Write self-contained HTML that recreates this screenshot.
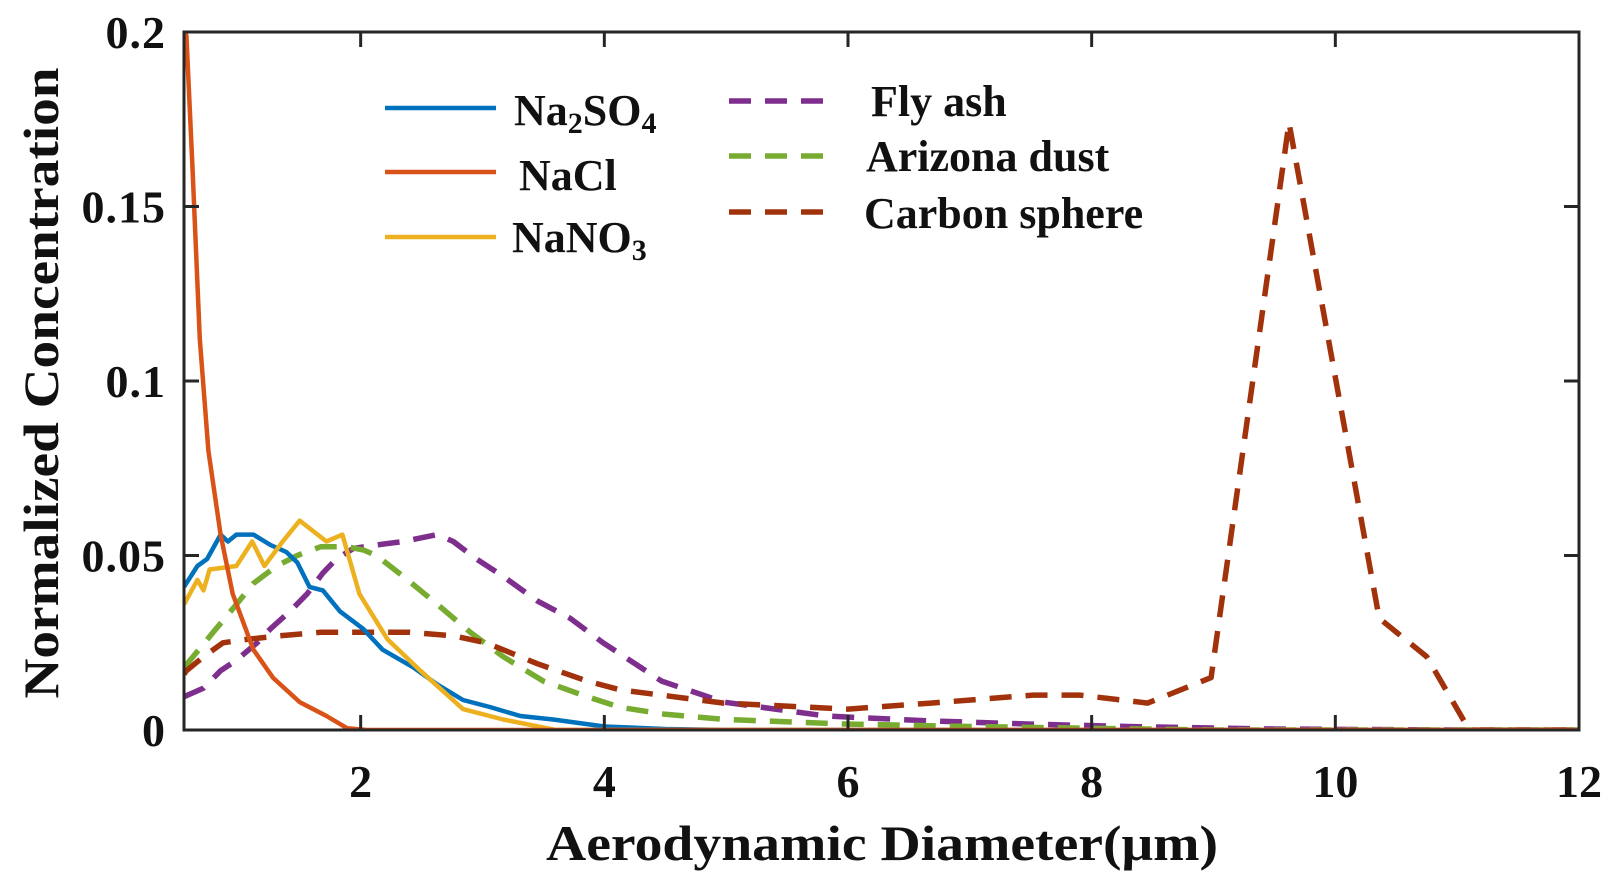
<!DOCTYPE html>
<html><head><meta charset="utf-8"><style>
html,body{margin:0;padding:0;background:#fff;}
svg{display:block;font-family:"Liberation Serif",serif;font-weight:bold;}
</style></head><body>
<svg id="chart" width="1622" height="885" viewBox="0 0 1622 885"></svg>
<script>
const xTicks=[2,4,6,8,10,12];
const yTicks=[0,0.05,0.1,0.15,0.2];
const yTickLabels=["0","0.05","0.1","0.15","0.2"];
const xNa2SO4=[0.55,0.66,0.74,0.85,0.91,0.98,1.12,1.26,1.39,1.48,1.58,1.69,1.83,2.02,2.18,2.43,2.63,2.84,3.06,3.31,3.58,4.0,4.5,5.0,12];
const yNa2SO4=[0.041,0.047,0.049,0.056,0.054,0.056,0.056,0.053,0.051,0.048,0.041,0.040,0.034,0.029,0.023,0.018,0.013,0.0086,0.0066,0.004,0.003,0.001,0.0003,0,0];
const xNaCl=[0.55,0.57,0.62,0.68,0.75,0.85,0.95,1.12,1.28,1.5,1.72,1.89,2.05,12];
const yNaCl=[0.2,0.199,0.161,0.112,0.080,0.056,0.039,0.023,0.015,0.008,0.004,0.0005,0,0];
const xNaNO3=[0.55,0.66,0.71,0.76,0.98,1.11,1.21,1.36,1.50,1.72,1.85,1.99,2.22,2.49,2.84,3.17,3.6,12];
const yNaNO3=[0.036,0.043,0.040,0.046,0.047,0.054,0.047,0.054,0.060,0.054,0.056,0.039,0.026,0.017,0.006,0.003,0,0];
const xFly=[0.55,0.71,0.85,0.98,1.15,1.26,1.42,1.56,1.69,1.80,1.94,2.13,2.35,2.63,2.76,2.95,3.17,3.45,3.72,3.99,4.47,4.98,5.82,6.67,7.5,8.3,9.5,11,12];
const yFly=[0.0095,0.012,0.017,0.020,0.025,0.029,0.034,0.039,0.045,0.049,0.052,0.053,0.054,0.056,0.054,0.049,0.044,0.037,0.032,0.025,0.014,0.008,0.004,0.0026,0.0017,0.001,0.0003,0,0];
const xDust=[0.55,0.60,0.79,0.98,1.12,1.31,1.48,1.67,1.89,2.02,2.13,2.35,2.63,2.90,3.17,3.5,3.86,4.13,4.5,5.0,6.0,7,8,9,12];
const yDust=[0.018,0.020,0.028,0.036,0.042,0.047,0.050,0.0525,0.0525,0.0516,0.050,0.044,0.036,0.028,0.021,0.014,0.0095,0.0065,0.0045,0.003,0.0017,0.001,0.0005,0,0];
const xCarbon=[0.55,0.57,0.71,0.87,1.07,1.34,1.67,2.02,2.40,2.76,3.03,3.45,3.86,4.13,4.98,6.0,6.68,7.52,7.9,8.46,8.98,9.62,10.36,10.75,11.1,12];
const yCarbon=[0.016,0.017,0.021,0.025,0.026,0.027,0.028,0.028,0.028,0.027,0.025,0.019,0.014,0.0115,0.0077,0.006,0.0077,0.010,0.010,0.0077,0.015,0.174,0.032,0.021,0,0];

const NS="http://www.w3.org/2000/svg";
const svg=document.getElementById('chart');
const L=184,R=1579,T=32,B=730,XMIN=0.55,XMAX=12,YMIN=0,YMAX=0.2;
const sx=v=>L+(v-XMIN)/(XMAX-XMIN)*(R-L);
const sy=v=>B-(v-YMIN)/(YMAX-YMIN)*(B-T);
function mk(tag,attrs,parent){const e=document.createElementNS(NS,tag);for(const k in attrs)e.setAttribute(k,attrs[k]);(parent||svg).appendChild(e);return e;}

const clip=mk('clipPath',{id:'pc'});mk('rect',{x:L,y:T-4,width:R-L,height:B-T+4},clip);
const plot=mk('g',{'clip-path':'url(#pc)'});



function series(xs,ys,color,dash,name){
  const d=xs.map((x,i)=>(i?'L':'M')+sx(x).toFixed(1)+' '+sy(ys[i]).toFixed(1)).join(' ');
  const p=mk('path',{d:d,fill:'none',stroke:color,'stroke-width':dash?5.5:4.5,'stroke-linejoin':'round','stroke-dasharray':dash?'22 14':'none'},plot);
  
  
}
series(xFly,yFly,'#7E2F8E',true,'fly-ash-line');
series(xDust,yDust,'#77AC30',true,'arizona-dust-line');
series(xCarbon,yCarbon,'#A2320C',true,'carbon-sphere-line');
series(xNa2SO4,yNa2SO4,'#0072BD',false,'na2so4-line');
series(xNaNO3,yNaNO3,'#EDB120',false,'nano3-line');
series(xNaCl,yNaCl,'#D95319',false,'nacl-line');

const box=mk('rect',{x:L,y:T,width:R-L,height:B-T,fill:'none',stroke:'#262626','stroke-width':3});



xTicks.forEach(t=>{
  const x=sx(t);
  const a=mk('line',{x1:x,x2:x,y1:B,y2:B-15,stroke:'#262626','stroke-width':3});
  
  
  const b=mk('line',{x1:x,x2:x,y1:T,y2:T+15,stroke:'#262626','stroke-width':3});
  
  
  const tx=mk('text',{x:x,y:797,'text-anchor':'middle','font-size':46,fill:'#111'});
  tx.textContent=String(t);
  
  
});
yTicks.forEach((t,i)=>{
  const y=sy(t);
  const a=mk('line',{x1:L,x2:L+15,y1:y,y2:y,stroke:'#262626','stroke-width':3});
  
  
  const b=mk('line',{x1:R,x2:R-15,y1:y,y2:y,stroke:'#262626','stroke-width':3});
  
  
  const tx=mk('text',{x:166,y:y+16,'text-anchor':'end','font-size':46,fill:'#111','letter-spacing':1});
  tx.textContent=yTickLabels[i];
  
  
});
const xt=mk('text',{x:882,y:860,'text-anchor':'middle','font-size':50,fill:'#111',textLength:672,lengthAdjust:'spacingAndGlyphs'});
xt.textContent='Aerodynamic Diameter(μm)';


const yt=mk('text',{x:0,y:0,'text-anchor':'middle','font-size':50,fill:'#111',textLength:631,lengthAdjust:'spacingAndGlyphs',transform:'translate(58,383) rotate(-90)'});
yt.textContent='Normalized Concentration';



const lg=mk('g',{});


function entry(x1,x2,y,color,dash,tx,ty,label,sub,name){
  const g=mk('g',{},lg);
  
  
  mk('line',{x1:x1,x2:x2,y1:y,y2:y,stroke:color,'stroke-width':dash?5.5:4.5,'stroke-dasharray':dash?'22 14':'none'},g);
  const t=mk('text',{x:tx,y:ty,'font-size':44,fill:'#111'},g);
  if(sub){
    sub.forEach(s=>{const ts=mk('tspan',s[1]?{'font-size':30,dy:8}:{dy:s[2]||0},t);ts.textContent=s[0];});
  } else t.textContent=label;
}
entry(385,496,108,'#0072BD',false,514,125,'',[["Na",0],["2",1],["SO",0,-8],["4",1]],'legend-na2so4');
entry(385,496,172,'#D95319',false,519,190,'NaCl',null,'legend-nacl');
entry(385,496,237,'#EDB120',false,512,252,'',[["NaNO",0],["3",1]],'legend-nano3');
entry(729,827,101,'#7E2F8E',true,871,116,'Fly ash',null,'legend-fly-ash');
entry(729,827,156,'#77AC30',true,866,171,'Arizona dust',null,'legend-arizona-dust');
entry(729,827,212,'#A2320C',true,864,228,'Carbon sphere',null,'legend-carbon-sphere');
</script>
</body></html>
